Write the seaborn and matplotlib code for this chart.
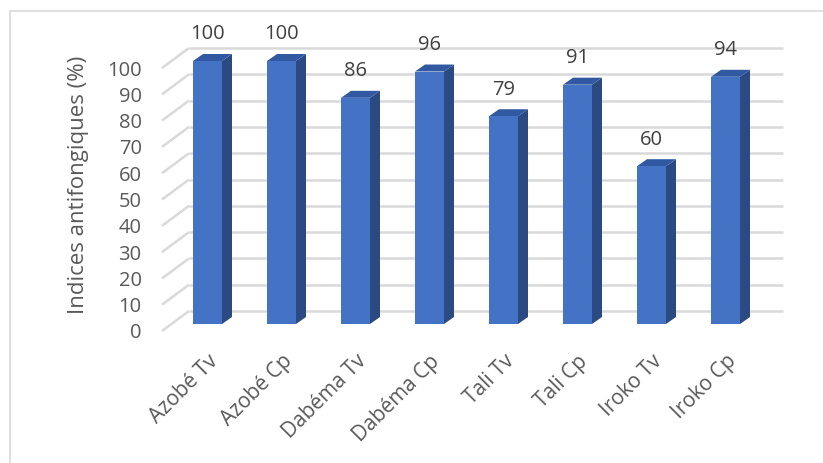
import numpy as np
import pandas as pd
import matplotlib
matplotlib.use("Agg")
import matplotlib.pyplot as plt
from matplotlib.patches import Polygon
from matplotlib.transforms import ScaledTranslation
import seaborn as sns

# --- données ---
essences = ["Azobé Tv", "Azobé Cp", "Dabéma Tv", "Dabéma Cp",
            "Tali Tv", "Tali Cp", "Iroko Tv", "Iroko Cp"]
indices = [100, 100, 86, 96, 79, 91, 60, 94]
graduations = list(range(0, 101, 10))

df = pd.DataFrame({"essence": essences, "indice": indices})

sns.set_theme(style="white")
plt.rcParams["font.family"] = ["Open Sans", "DejaVu Sans"]

W, H = 823, 463
fig = plt.figure(figsize=(W / 100, H / 100), dpi=100)

# placement en pixels -> coordonnées de l'axe
px_x = 74.0          # pixels par catégorie
px_y = 2.63          # pixels par unité
x0_px, y0_px = 207.5, 324.0   # centre de la 1re barre, base des barres
left_px, right_px, top_px, bot_px = 150, 800, 25, 345
ax = fig.add_axes([left_px / W, 1 - bot_px / H,
                   (right_px - left_px) / W, (bot_px - top_px) / H])

# profondeur 3D (en unités de données)
dx_bar, dy_bar = 10 / px_x, 7 / px_y       # épaisseur des barres
dy_mur = 13 / px_y                          # mur du fond derrière les barres
dy_sol = 7 / px_y                           # plan avant devant les barres
mur_g = (189 - x0_px) / px_x
mur_d = (783 - x0_px) / px_x

grille = "#D9D9D9"
for t in graduations:
    yb = t + dy_mur
    ax.plot([mur_g, mur_d], [yb, yb], color=grille, lw=1.8, zorder=0,
            solid_capstyle="butt")
    ax.plot([mur_g, mur_g - 27 / px_x], [yb, yb - 20 / px_y], color=grille,
            lw=1.8, zorder=0, solid_capstyle="butt")

sns.barplot(data=df, x="essence", y="indice", color="#4472C4", width=29 / px_x,
            saturation=1, ax=ax, zorder=3)

for p in list(ax.patches):
    x, w, h = p.get_x(), p.get_width(), p.get_height()
    p.set_edgecolor("none")
    cote = Polygon([(x + w, 0), (x + w + dx_bar, dy_bar),
                    (x + w + dx_bar, h + dy_bar), (x + w, h)],
                   closed=True, facecolor="#2B4A82", edgecolor="none", zorder=2)
    dessus = Polygon([(x, h), (x + w, h), (x + w + dx_bar, h + dy_bar),
                      (x + dx_bar, h + dy_bar)],
                     closed=True, facecolor="#3159A2", edgecolor="none", zorder=2)
    ax.add_patch(cote)
    ax.add_patch(dessus)

ax.bar_label(ax.containers[0], labels=[str(v) for v in indices], padding=12,
             fontsize=14.5, color="#404040")

# limites après seaborn (qui les réinitialise)
ax.set_xlim((left_px - x0_px) / px_x, (right_px - x0_px) / px_x)
ax.set_ylim((y0_px - bot_px) / px_y, (y0_px - top_px) / px_y)

# axe y : graduations sur le plan avant
ax.set_yticks([t - dy_sol for t in graduations], labels=[str(t) for t in graduations])
ax.tick_params(axis="y", length=0, pad=6, labelsize=14.5, labelcolor="#595959")
ax.tick_params(axis="x", length=0, pad=0, labelsize=15, labelcolor="#595959")
plt.setp(ax.get_xticklabels(), rotation=45, ha="right", rotation_mode="anchor")
for lab in ax.get_xticklabels():
    lab.set_transform(lab.get_transform() + ScaledTranslation(0, -6 / 100, fig.dpi_scale_trans))

ax.set_xlabel("")
ax.set_ylabel("Indices antifongiques (%)", fontsize=16, color="#595959", labelpad=13)
for s in ax.spines.values():
    s.set_visible(False)
ax.grid(False)

# cadre du graphique (coupé à droite et en bas)
fig.add_artist(plt.Line2D([10 / W, 1], [1 - 11 / H, 1 - 11 / H], color="#D9D9D9", lw=1.2))
fig.add_artist(plt.Line2D([10 / W, 10 / W], [0, 1 - 11 / H], color="#D9D9D9", lw=1.2))

fig.savefig("out.png", dpi=100)
